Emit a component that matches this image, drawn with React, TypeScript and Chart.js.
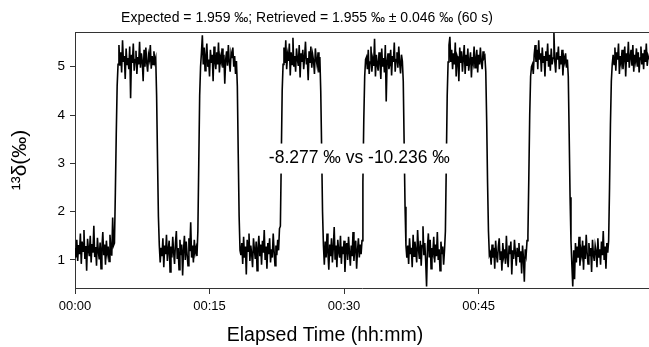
import React, { useEffect, useRef } from 'react';
import { Chart, registerables } from 'chart.js';

Chart.register(...registerables);

const titleText = 'Expected = 1.959 ‰; Retrieved = 1.955 ‰ ± 0.046 ‰ (60 s)';
const annotationText = '-8.277 ‰ vs -10.236 ‰';
const xAxisTitle = 'Elapsed Time (hh:mm)';
const yAxisTitle = '¹³δ(‰)';

const xTickValues = [0, 15, 30, 45];
const xTickLabels = ['00:00', '00:15', '00:30', '00:45'];
const yTickValues = [1, 2, 3, 4, 5];

const sampleStepMin = 0.1;
const segmentStartMin = [0, 4.4, 9.1, 13.7, 18.1, 22.9, 27.4, 32.0, 36.6, 41.3, 45.8, 50.5, 55.0, 59.5];

const low0 = [
  1.25, 1.05, 1.42, 0.98, 1.31, 1.12, 1.55, 0.92, 1.38, 1.18,
  1.62, 1.02, 1.29, 0.78, 1.44, 1.21, 1.08, 1.50, 0.95, 1.33,
  1.15, 1.71, 1.06, 1.27, 0.88, 1.46, 1.19, 1.01, 1.36, 0.82,
  1.24, 1.58, 1.10, 1.32, 0.90, 1.40, 1.14, 1.28, 0.97, 1.52,
  1.20, 1.09, 1.88, 1.30,
];
const high1 = [
  1.35, 2.40, 3.60, 4.60, 5.05, 5.45, 5.02, 5.30, 4.88, 5.55,
  5.10, 5.22, 4.75, 5.38, 5.05, 5.18, 4.95, 5.42, 4.35, 5.25,
  5.08, 5.48, 4.92, 5.15, 5.33, 4.85, 5.20, 5.05, 5.52, 4.98,
  5.28, 5.12, 4.70, 5.35, 5.00, 5.40, 5.08, 4.90, 5.25, 5.15,
  5.45, 4.96, 5.22, 5.05, 5.32, 5.10, 5.18,
];
const low1 = [
  4.40, 3.10, 1.90, 1.30, 0.95, 1.25, 1.08, 1.45, 0.85, 1.30,
  1.12, 1.52, 0.98, 1.22, 1.40, 0.75, 1.28, 1.05, 1.48, 1.15,
  0.92, 1.35, 1.60, 1.02, 1.25, 0.80, 1.42, 1.10, 1.32, 0.68,
  1.20, 1.50, 1.00, 1.38, 1.12, 0.88, 1.45, 1.18, 1.78, 1.05,
  1.30, 0.95, 1.42, 1.15, 1.25, 1.08,
];
const high2 = [
  1.60, 3.00, 4.40, 5.00, 5.30, 5.65, 5.05, 5.40, 4.92, 5.22,
  5.48, 5.00, 5.15, 4.80, 5.35, 5.08, 5.25, 4.70, 5.42, 5.12,
  4.95, 5.30, 5.05, 5.50, 4.88, 5.20, 5.10, 5.38, 4.98, 5.25,
  4.65, 5.15, 5.32, 5.02, 5.45, 5.10, 4.90, 5.28, 5.18, 5.40,
  5.00, 5.22, 4.85, 5.12,
];
const low2 = [
  4.60, 3.20, 1.90, 1.20, 1.10, 1.35, 0.92, 1.48, 1.05, 1.28,
  0.70, 1.42, 1.18, 1.55, 0.98, 1.30, 1.12, 0.85, 1.45, 1.22,
  1.02, 1.38, 0.78, 1.25, 1.50, 1.08, 1.32, 0.90, 1.40, 1.15,
  1.62, 1.00, 1.28, 0.82, 1.35, 1.12, 1.45, 0.95, 1.22, 1.05,
  1.55, 1.18, 0.88, 1.30, 1.10, 1.42, 1.20, 1.65,
];
const high3 = [
  1.70, 3.10, 4.50, 5.05, 5.40, 5.08, 5.55, 4.95, 5.25, 5.12,
  5.48, 4.82, 5.30, 5.05, 5.60, 5.00, 5.22, 4.90, 5.38, 5.15,
  5.02, 5.45, 4.78, 5.28, 5.10, 5.35, 4.95, 5.20, 5.52, 5.05,
  5.18, 4.72, 5.32, 5.08, 5.42, 4.98, 5.25, 5.12, 4.85, 5.38,
  5.15, 5.02, 5.30, 4.88, 5.20,
];
const low3 = [
  4.50, 3.30, 2.00, 1.30, 0.90, 1.38, 1.05, 1.55, 1.15, 0.80,
  1.32, 1.08, 1.45, 0.95, 1.25, 1.68, 1.02, 1.30, 0.85, 1.42,
  1.18, 1.05, 1.50, 0.92, 1.28, 1.12, 1.40, 0.75, 1.22, 1.35,
  1.00, 1.48, 1.15, 0.88, 1.30, 1.08, 1.58, 0.98, 1.25, 1.40,
  0.82, 1.20, 1.45, 1.05, 1.32, 1.12,
];
const high4 = [
  1.40, 2.60, 3.90, 4.80, 5.15, 5.20, 4.95, 5.35, 4.85, 5.10,
  5.42, 4.90, 5.15, 5.02, 5.58, 4.80, 5.25, 5.05, 4.92, 5.30,
  5.10, 4.75, 5.38, 5.00, 5.18, 4.88, 5.45, 4.28, 5.12, 5.28,
  4.95, 5.05, 5.35, 4.82, 5.22, 5.10, 5.50, 4.90, 5.15, 5.30,
  4.98, 5.42, 5.08, 4.86, 5.25, 5.12,
];
const low4 = [
  4.70, 3.40, 2.10, 1.30, 1.05, 1.30, 0.92, 1.45, 1.12, 1.25,
  0.85, 1.52, 1.08, 1.38, 1.18, 0.95, 1.62, 1.22, 1.02, 1.40,
  0.88, 1.30, 1.70, 1.10, 1.35, 0.98, 0.45, 1.28, 1.55, 1.05,
  1.42, 0.82, 1.25, 1.15, 1.48, 0.95, 1.32, 1.08, 1.58, 1.00,
  1.22, 0.78, 1.38, 1.12, 1.28, 0.90, 1.20,
];
const high5 = [
  1.60, 3.00, 4.40, 5.10, 5.45, 5.62, 5.10, 5.35, 4.95, 5.28,
  5.05, 5.50, 4.80, 5.22, 5.15, 4.70, 5.40, 5.08, 5.32, 4.90,
  5.18, 5.45, 4.85, 5.25, 5.02, 5.38, 4.92, 5.12, 5.30, 4.78,
  5.20, 5.08, 5.42, 4.98, 5.15, 5.35, 4.88, 5.25, 5.05, 5.40,
  5.10, 4.95, 5.32, 5.18, 5.22,
];
const low5 = [
  4.90, 3.90, 2.60, 1.60, 1.10, 1.15, 0.90, 1.32, 1.05, 1.25,
  0.82, 1.40, 1.10, 0.95, 1.28, 1.45, 1.00, 1.18, 0.78, 1.35,
  1.08, 1.22, 0.92, 1.50, 1.05, 0.85, 1.30, 1.12, 1.38, 0.70,
  1.20, 1.02, 1.42, 1.15, 0.88, 1.25, 1.08, 1.35, 0.95, 1.18,
  0.72, 1.30, 1.05, 0.55, 1.22, 1.10, 1.40,
];
const high6 = [
  1.50, 2.70, 4.00, 4.80, 5.00, 5.05, 4.85, 5.25, 5.45, 5.10,
  5.35, 4.95, 5.55, 5.15, 5.28, 4.90, 5.40, 5.08, 5.22, 4.80,
  5.32, 5.12, 5.48, 5.00, 5.25, 4.92, 5.38, 5.05, 5.18, 5.70,
  5.10, 4.88, 5.30, 5.15, 5.42, 4.95, 5.22, 5.05, 5.35, 4.82,
  5.20, 5.10, 5.28, 4.98, 5.15,
];
const low6 = [
  4.80, 3.60, 2.30, 1.40, 0.90, 0.45, 1.20, 0.60, 1.35, 0.95,
  1.28, 1.05, 1.48, 0.88, 1.22, 1.10, 1.40, 0.80, 1.30, 1.02,
  1.52, 1.15, 0.92, 1.35, 1.08, 1.25, 0.75, 1.42, 1.12, 0.98,
  1.30, 1.18, 0.85, 1.45, 1.05, 1.22, 0.90, 1.38, 1.10, 1.60,
  1.00, 1.28, 0.82, 1.35, 1.15,
];
const high7 = [
  1.40, 2.50, 3.80, 4.70, 5.05, 5.25, 5.05, 5.40, 4.92, 5.30,
  5.15, 5.48, 4.85, 5.22, 5.08, 5.35, 4.95, 5.18, 5.42, 4.80,
  5.28, 5.10, 5.52, 4.98, 5.20, 5.35, 5.02, 5.45, 4.90, 5.25,
  5.12, 5.38, 5.00, 5.30, 4.88, 5.18, 5.42, 5.05, 5.28, 4.95,
  5.35, 5.10, 5.48, 5.02, 5.22, 5.15,
];

const segments = [low0, high1, low1, high2, low2, high3, low3, high4, low4, high5, low5, high6, low6, high7];

const FONT = '"Liberation Sans", Arial, Helvetica, sans-serif';

function buildPoints() {
  const pts: { x: number; y: number }[] = [];
  segments.forEach((seg, k) => {
    seg.forEach((v, i) => {
      pts.push({ x: +(segmentStartMin[k] + i * sampleStepMin).toFixed(3), y: v });
    });
  });
  return pts;
}

const decorPlugin = {
  id: 'decor',
  afterDraw(chart: any) {
    const { ctx, chartArea } = chart;
    ctx.save();
    ctx.strokeStyle = '#333';
    ctx.lineWidth = 1;
    ctx.beginPath();
    ctx.moveTo(chartArea.left, Math.round(chartArea.top) + 0.5);
    ctx.lineTo(chartArea.right, Math.round(chartArea.top) + 0.5);
    ctx.stroke();

    ctx.font = `17.5px ${FONT}`;
    ctx.textAlign = 'center';
    ctx.textBaseline = 'middle';
    const cx = chart.scales.x.getPixelForValue(31.7);
    const cy = chart.scales.y.getPixelForValue(3.1);
    const w = ctx.measureText(annotationText).width;
    ctx.fillStyle = '#fff';
    ctx.fillRect(cx - w / 2 - 2, cy - 15, w + 4, 30);
    ctx.fillStyle = '#000';
    ctx.fillText(annotationText, cx, cy);

    ctx.font = `14px ${FONT}`;
    ctx.fillText(titleText, 307, 18);

    ctx.font = `19.5px ${FONT}`;
    ctx.fillText(xAxisTitle, 325, 336);
    ctx.restore();
  },
};

export default function App() {
  const ref = useRef<HTMLCanvasElement>(null);
  useEffect(() => {
    document.body.style.margin = '0';
    const canvas = ref.current!;
    const chart = new Chart(canvas, {
      type: 'line',
      data: {
        datasets: [
          {
            data: buildPoints(),
            borderColor: '#000',
            borderWidth: 1.6,
            pointRadius: 0,
            tension: 0,
            fill: false,
          },
        ],
      },
      options: {
        animation: false,
        responsive: false,
        layout: { padding: { top: 32, left: 0, right: 0, bottom: 0 } },
        plugins: {
          legend: { display: false },
          tooltip: { enabled: false },
          title: { display: false },
        },
        scales: {
          x: {
            type: 'linear',
            min: 0,
            max: 64,
            afterBuildTicks: (s: any) => {
              s.ticks = xTickValues.map((v) => ({ value: v }));
            },
            afterFit: (s: any) => {
              s.height = 59;
            },
            ticks: {
              autoSkip: false,
              maxRotation: 0,
              padding: 5,
              color: '#000',
              font: { family: FONT, size: 13 },
              callback: (_v: any, i: number) => xTickLabels[i],
            },
            grid: { drawOnChartArea: false, tickLength: 6, tickColor: '#333' },
            border: { display: true, color: '#333', width: 1 },
          },
          y: {
            type: 'linear',
            min: 0.42,
            max: 5.72,
            afterBuildTicks: (s: any) => {
              s.ticks = yTickValues.map((v) => ({ value: v }));
            },
            afterFit: (s: any) => {
              s.width = 75;
            },
            ticks: {
              padding: 5,
              color: '#000',
              font: { family: FONT, size: 13.5 },
              callback: (v: any) => String(v),
            },
            grid: { drawOnChartArea: false, tickLength: 5, tickColor: '#333' },
            border: { display: true, color: '#333', width: 1 },
            title: {
              display: true,
              text: yAxisTitle,
              color: '#000',
              font: { family: FONT, size: 21 },
              padding: { top: 8, bottom: 0 },
            },
          },
        },
      },
      plugins: [decorPlugin],
    });
    return () => chart.destroy();
  }, []);
  return (
    <div style={{ width: 649, height: 347 }}>
      <canvas ref={ref} width={649} height={347} style={{ display: 'block' }} />
    </div>
  );
}
